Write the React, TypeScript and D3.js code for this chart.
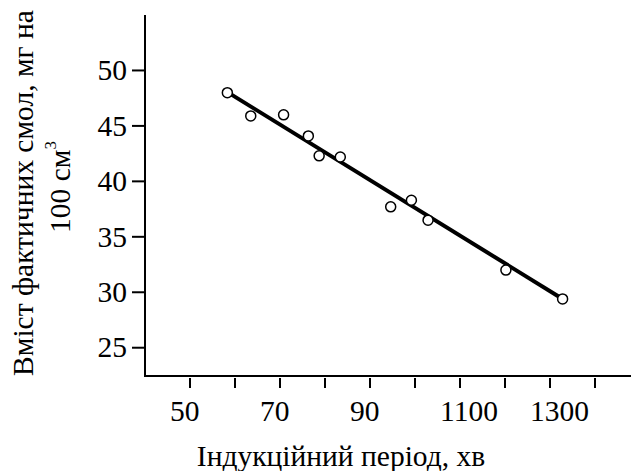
import React, { useEffect, useRef } from 'react'
import * as d3 from 'd3'

// induction period (x) vs actual resin content (y)
const periodValues = [58.3, 63.5, 70.8, 76.3, 78.7, 83.4, 94.6, 99.2, 102.9, 120.2, 132.8]
const resinValues = [48.0, 45.9, 46.0, 44.1, 42.3, 42.2, 37.7, 38.3, 36.5, 32.0, 29.4]

// trend line end points
const trendX = [58.5, 132]
const trendY = [48.0, 29.6]

const xTickValues = [50, 60, 70, 80, 90, 100, 110, 120, 130, 140]
const xLabelValues = [50, 70, 90, 110, 130]
const xLabelTexts = ['50', '70', '90', '1100', '1300']
const yTickValues = [25, 30, 35, 40, 45, 50]

const App = () => {
    const ref = useRef<SVGSVGElement>(null)

    useEffect(() => {
        document.body.style.margin = '0'
        const svg = d3.select(ref.current)
        svg.selectAll('*').remove()

        const xScale = d3.scaleLinear().domain([40, 148]).range([145, 631])
        const yScale = d3.scaleLinear().domain([22.45, 55]).range([376, 15])

        const x0 = xScale(40)
        const y0 = yScale(22.45)

        // axes lines
        svg.append('line')
            .attr('x1', x0).attr('x2', x0)
            .attr('y1', yScale(55)).attr('y2', y0 + 1)
            .attr('stroke', '#000').attr('stroke-width', 2)
        svg.append('line')
            .attr('x1', x0 - 1).attr('x2', xScale(148))
            .attr('y1', y0).attr('y2', y0)
            .attr('stroke', '#000').attr('stroke-width', 2)

        // x ticks (hang below axis)
        svg.append('g')
            .selectAll('line')
            .data(xTickValues)
            .join('line')
            .attr('x1', d => xScale(d)).attr('x2', d => xScale(d))
            .attr('y1', y0 + 2).attr('y2', y0 + 12)
            .attr('stroke', '#000').attr('stroke-width', 2)

        svg.append('g')
            .selectAll('text')
            .data(xLabelValues)
            .join('text')
            .attr('x', d => xScale(d) - 20)
            .attr('y', 421)
            .text((d, i) => xLabelTexts[i])

        // y ticks
        svg.append('g')
            .selectAll('line')
            .data(yTickValues)
            .join('line')
            .attr('x1', x0 - 13).attr('x2', x0)
            .attr('y1', d => yScale(d)).attr('y2', d => yScale(d))
            .attr('stroke', '#000').attr('stroke-width', 2)

        svg.append('g')
            .selectAll('text')
            .data(yTickValues)
            .join('text')
            .attr('x', 127)
            .attr('y', d => yScale(d))
            .attr('dy', '0.33em')
            .attr('text-anchor', 'end')
            .text(d => d)

        // trend line
        const line = d3.line<number>()
            .x(d => xScale(d))
            .y((d, i) => yScale(trendY[i]))
        svg.append('path')
            .datum(trendX)
            .attr('d', line)
            .attr('fill', 'none')
            .attr('stroke', '#000')
            .attr('stroke-width', 4)

        // points
        svg.append('g')
            .selectAll('circle')
            .data(periodValues)
            .join('circle')
            .attr('cx', d => xScale(d))
            .attr('cy', (d, i) => yScale(resinValues[i]))
            .attr('r', 5)
            .attr('fill', '#fff')
            .attr('stroke', '#000')
            .attr('stroke-width', 1.5)

        // axis titles
        svg.append('text')
            .attr('x', 341).attr('y', 466)
            .attr('text-anchor', 'middle')
            .text('Індукційний період, хв')

        svg.append('text')
            .attr('transform', 'translate(33,193) rotate(-90)')
            .attr('text-anchor', 'middle')
            .text('Вміст фактичних смол, мг на')

        const t2 = svg.append('text')
            .attr('transform', 'translate(70,187) rotate(-90)')
            .attr('text-anchor', 'middle')
        t2.append('tspan').text('100 см')
        t2.append('tspan').attr('dy', -14).style('font-size', '17px').text('3')
    }, [])

    return (
        <svg ref={ref} width={633} height={471}
            style={{ display: 'block', background: '#fff', fontFamily: "'Times New Roman'", fontSize: '29.5px' }} />
    )
}

export default App
